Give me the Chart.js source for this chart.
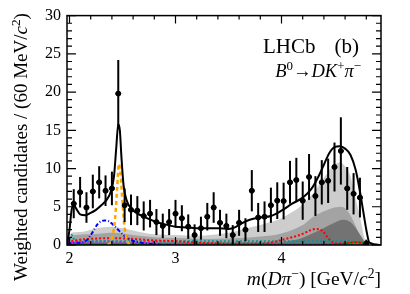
<!DOCTYPE html>
<html>
<head>
<meta charset="utf-8">
<script src="https://cdn.jsdelivr.net/npm/chart.js@4.4.1/dist/chart.umd.min.js"></script>
<style>
  body { margin: 0; background: #fff; }
  canvas { display: block; }
</style>
</head>
<body>
<canvas id="myChart" width="410" height="294"></canvas>
<script>
// m(D pi) bin centres [GeV/c^2], 60 MeV bins
var binCenters = [2.04, 2.10, 2.16, 2.22, 2.28, 2.34, 2.40, 2.46, 2.52, 2.58,
  2.64, 2.70, 2.76, 2.82, 2.88, 2.94, 3.00, 3.06, 3.12, 3.18,
  3.24, 3.30, 3.36, 3.42, 3.48, 3.54, 3.60, 3.66, 3.72, 3.78,
  3.84, 3.90, 3.96, 4.02, 4.08, 4.14, 4.20, 4.26, 4.32, 4.38,
  4.44, 4.50, 4.56, 4.62, 4.68, 4.74, 4.80];
var counts = [5.4, 6.9, 4.9, 7.0, 8.2, 7.1, 7.4, 19.8, 5.2, 4.6,
  4.5, 3.8, 4.1, 3.0, 2.5, 3.0, 4.1, 3.5, 2.4, 1.3,
  2.2, 3.7, 4.9, 2.9, 2.5, 1.3, 2.9, 2.0, 7.1, 3.6,
  3.7, 5.2, 5.8, 5.75, 8.2, 8.5, 5.8, 8.9, 6.4, 8.2,
  8.4, 10.2, 12.3, 7.4, 6.7, 6.2, 0.2];
var errors = [1.9, 2.0, 2.0, 2.2, 2.1, 2.0, 2.2, 4.4, 2.2, 2.0,
  1.9, 1.9, 1.8, 1.7, 1.6, 1.7, 1.8, 1.7, 1.6, 1.4,
  1.5, 1.8, 2.0, 1.7, 1.6, 1.3, 1.7, 1.5, 2.7, 1.9,
  2.0, 2.3, 2.4, 2.4, 2.8, 2.9, 2.5, 3.0, 2.6, 2.9,
  2.9, 3.2, 4.4, 2.8, 2.7, 2.6, 0.5];

// total fit
var fitX = [1.976, 2.00, 2.02, 2.04, 2.07, 2.10, 2.15, 2.20, 2.25, 2.30, 2.35, 2.39, 2.42, 2.44, 2.46, 2.475,
  2.49, 2.51, 2.54, 2.58, 2.63, 2.70, 2.80, 2.90, 3.00, 3.10, 3.20, 3.30, 3.40, 3.50, 3.56, 3.62,
  3.70, 3.80, 3.90, 4.00, 4.10, 4.20, 4.28, 4.35, 4.40, 4.45, 4.50, 4.55, 4.60, 4.65, 4.70, 4.74,
  4.77, 4.80, 4.83, 4.94];
var fitY = [0, 2.0, 4.6, 5.2, 4.6, 4.0, 3.9, 4.2, 4.6, 5.2, 5.9, 7.0, 9.0, 12.5, 15.8, 15.0,
  11.5, 7.8, 5.8, 4.8, 4.2, 3.7, 3.1, 2.7, 2.4, 2.3, 2.2, 2.2, 2.2, 2.1, 2.3, 2.8,
  3.3, 3.6, 3.8, 4.5, 5.4, 6.2, 7.3, 9.0, 10.5, 12.0, 12.8, 12.9, 12.6, 11.8, 9.8, 7.0,
  4.5, 2.0, 0.3, 0];

// signal-like components
var orangeX = [2.36, 2.40, 2.43, 2.45, 2.465, 2.48, 2.50, 2.52, 2.55, 2.58];
var orangeY = [0, 0.8, 3.5, 7.5, 10.6, 9.5, 5.5, 2.2, 0.4, 0];
var blueX = [1.98, 2.05, 2.10, 2.16, 2.21, 2.27, 2.33, 2.37, 2.43, 2.51, 2.59, 2.70, 2.80, 2.95];
var blueY = [0.2, 0.3, 0.3, 0.6, 1.5, 2.8, 3.2, 3.1, 2.4, 1.3, 0.6, 0.25, 0.1, 0];
var redX = [1.98, 2.1, 2.2, 2.4, 2.6, 2.8, 3.0, 3.2, 3.4, 3.6, 3.8, 4.0, 4.17, 4.33, 4.39, 4.44, 4.49, 4.55, 4.65, 4.72, 4.78];
var redY = [0.4, 0.7, 0.8, 0.9, 0.8, 0.6, 0.5, 0.3, 0.2, 0.15, 0.15, 0.65, 1.3, 2.1, 1.8, 0.9, 0.3, 0.2, 0.3, 0.35, 0];
var tealX = [1.98, 2.00, 2.02, 2.04, 2.08, 2.3, 2.6, 3.0, 3.4, 3.8, 4.2, 4.5, 4.7, 4.78];
var tealY = [0.3, 0.8, 1.3, 0.8, 0.5, 0.5, 0.5, 0.5, 0.5, 0.5, 0.5, 0.5, 0.4, 0];
var magentaX = [1.98, 2.1, 2.3, 2.5, 2.7, 2.9, 3.5, 4.2, 4.55, 4.65, 4.72, 4.78];
var magentaY = [0.3, 0.4, 0.45, 0.4, 0.3, 0.15, 0.1, 0.1, 0.2, 0.4, 0.4, 0];
var greenX = [1.98, 2.5, 3.5, 4.3, 4.6, 4.7, 4.76, 4.8];
var greenY = [0.1, 0.1, 0.1, 0.1, 0.2, 0.4, 0.3, 0];

// stacked backgrounds (cumulative heights)
var lightX = [1.98, 2.02, 2.1, 2.2, 2.3, 2.4, 2.5, 2.6, 2.7, 2.8, 3.0, 3.2, 3.4, 3.5, 3.6, 3.7, 3.8, 3.9,
  4.0, 4.1, 4.2, 4.3, 4.4, 4.5, 4.55, 4.6, 4.65, 4.7, 4.75, 4.78, 4.8];
var lightY = [0, 1.6, 1.7, 2.0, 2.3, 2.4, 2.2, 1.9, 1.6, 1.4, 1.3, 1.2, 1.4, 1.6, 1.9, 2.3, 2.6, 3.0,
  3.5, 4.3, 5.3, 6.8, 8.8, 10.5, 10.8, 10.3, 9.0, 6.0, 3.0, 1.0, 0];
var midX = [1.98, 2.02, 2.2, 2.4, 2.6, 2.8, 3.0, 3.3, 3.6, 3.8, 4.0, 4.2, 4.3, 4.4, 4.5, 4.57, 4.63, 4.7, 4.75, 4.8];
var midY = [0, 1.2, 1.4, 1.6, 1.3, 1.0, 0.9, 0.8, 0.9, 1.1, 1.5, 2.6, 3.7, 4.4, 4.9, 5.0, 4.3, 2.5, 1.0, 0];
var darkX = [3.8, 3.9, 4.0, 4.17, 4.36, 4.5, 4.58, 4.65, 4.72, 4.78, 4.8];
var darkY = [0, 0.2, 0.4, 0.8, 1.95, 2.9, 3.3, 3.0, 1.8, 0.5, 0];
var slateX = [1.98, 2.05, 2.5, 3.0, 3.5, 4.0, 4.5, 4.75, 4.8];
var slateY = [0.2, 0.4, 0.35, 0.35, 0.35, 0.35, 0.35, 0.3, 0];

var xMajorTicks = [2, 3, 4];
var yMajorTicks = [0, 5, 10, 15, 20, 25, 30];

function pts(xs, ys) {
  return xs.map(function (x, i) { return { x: x, y: ys[i] }; });
}

function curve(xs, ys, color, width, dash, order) {
  return {
    data: pts(xs, ys), borderColor: color, borderWidth: width, borderDash: dash,
    pointRadius: 0, fill: false, cubicInterpolationMode: 'monotone', order: order
  };
}
function area(xs, ys, color, order) {
  return {
    data: pts(xs, ys), borderColor: color, borderWidth: 0, backgroundColor: color,
    pointRadius: 0, fill: 'origin', cubicInterpolationMode: 'monotone', order: order
  };
}

var SERIF = '"Liberation Serif", "DejaVu Serif", serif';

function fontFor(style, size) {
  var sz = style.indexOf('s') >= 0 ? size * 0.7 : size;
  return (style.indexOf('i') >= 0 ? 'italic ' : '') + sz + 'px ' + SERIF;
}
// parts: [text, style]  style: '' roman, 'i' italic, 's' superscript, 'is' italic superscript
function richText(ctx, parts, x, y, size, align) {
  var w = 0;
  parts.forEach(function (p) { ctx.font = fontFor(p[1], size); w += ctx.measureText(p[0]).width; });
  var cx = align === 'right' ? x - w : (align === 'center' ? x - w / 2 : x);
  ctx.textAlign = 'left';
  ctx.textBaseline = 'alphabetic';
  parts.forEach(function (p) {
    ctx.font = fontFor(p[1], size);
    var dy = p[1].indexOf('s') >= 0 ? -size * 0.38 : 0;
    ctx.fillText(p[0], cx, y + dy);
    cx += ctx.measureText(p[0]).width;
  });
}

var decorations = {
  id: 'decorations',
  afterDatasetsDraw: function (chart) {
    var ctx = chart.ctx, a = chart.chartArea;
    var xs = chart.scales.x, ys = chart.scales.y;
    ctx.save();
    // error bars
    ctx.strokeStyle = '#000';
    ctx.lineWidth = 2;
    binCenters.forEach(function (c, i) {
      var px = xs.getPixelForValue(c);
      var top = Math.max(ys.getPixelForValue(counts[i] + errors[i]), a.top);
      var bot = Math.min(ys.getPixelForValue(Math.max(counts[i] - errors[i], 0)), a.bottom);
      ctx.beginPath();
      ctx.moveTo(px, top); ctx.lineTo(px, bot);
      ctx.stroke();
      var py = ys.getPixelForValue(counts[i]);
      ctx.beginPath();
      ctx.moveTo(xs.getPixelForValue(c - 0.025), py); ctx.lineTo(xs.getPixelForValue(c + 0.025), py);
      ctx.stroke();
    });
    // frame
    ctx.lineWidth = 1.5;
    ctx.strokeRect(a.left, a.top, a.right - a.left, a.bottom - a.top);
    ctx.lineWidth = 1.2;
    ctx.beginPath();
    var v, p, len;
    for (v = 2.0; v < 4.95; v += 0.2) {
      p = xs.getPixelForValue(v);
      if (p < a.left || p > a.right) continue;
      len = Math.abs(v - Math.round(v)) < 0.01 ? 8 : 4;
      ctx.moveTo(p, a.bottom); ctx.lineTo(p, a.bottom - len);
      ctx.moveTo(p, a.top); ctx.lineTo(p, a.top + len);
    }
    for (v = 0; v <= 30; v += 1) {
      p = ys.getPixelForValue(v);
      len = v % 5 === 0 ? 9 : 5;
      ctx.moveTo(a.left, p); ctx.lineTo(a.left + len, p);
      ctx.moveTo(a.right, p); ctx.lineTo(a.right - len, p);
    }
    ctx.stroke();
    ctx.restore();
  },
  afterDraw: function (chart) {
    var ctx = chart.ctx, a = chart.chartArea;
    ctx.save();
    ctx.fillStyle = '#000';
    // y title
    ctx.save();
    ctx.translate(27, 147);
    ctx.rotate(-Math.PI / 2);
    richText(ctx, [['Weighted candidates / (60 MeV/', ''], ['c', 'i'], ['2', 's'], [')', '']], 0, 0, 19, 'center');
    ctx.restore();
    // x title
    richText(ctx, [['m', 'i'], ['(', ''], ['D', 'i'], ['\u03C0', 'i'], ['\u2212', 's'], [') [GeV/', ''], ['c', 'i'], ['2', 's'], [']', '']],
      a.right, 285, 19.5, 'right');
    // labels
    richText(ctx, [['LHCb', '']], 263, 53, 21, 'left');
    richText(ctx, [['(b)', '']], 359, 53, 21, 'right');
    richText(ctx, [['B', 'i'], ['0', 's'], ['\u2192', ''], ['DK', 'i'], ['+', 's'], ['\u03C0', 'i'], ['\u2212', 's']],
      361, 77, 18.5, 'right');
    ctx.restore();
  }
};

var ctx = document.getElementById('myChart').getContext('2d');
var chart = new Chart(ctx, {
  type: 'line',
  data: {
    datasets: [
      {
        data: pts(binCenters, counts), showLine: false, pointRadius: 2.5,
        pointBackgroundColor: '#000', pointBorderColor: '#000', order: 0
      },
      curve(fitX, fitY, '#000', 2, [], 1),
      curve(orangeX, orangeY, '#ffa500', 2.5, [4, 3], 2),
      curve(blueX, blueY, '#0000ff', 2, [4, 2, 1, 2], 3),
      curve(redX, redY, '#ff0000', 2, [2, 2], 4),
      curve(tealX, tealY, '#009999', 2, [2, 2], 5),
      curve(magentaX, magentaY, '#ff00ff', 2, [2, 2], 6),
      curve(greenX, greenY, '#008000', 1.5, [], 7),
      area(slateX, slateY, '#5f8080', 8),
      area(darkX, darkY, '#737373', 9),
      area(midX, midY, '#a3a3a3', 10),
      area(lightX, lightY, '#cdcdcd', 11)
    ]
  },
  options: {
    responsive: false,
    animation: false,
    devicePixelRatio: 1,
    layout: { padding: { top: 14, right: 29, left: 0, bottom: 0 } },
    plugins: { legend: { display: false }, tooltip: { enabled: false } },
    scales: {
      x: {
        type: 'linear', min: 1.9764, max: 4.9387,
        afterBuildTicks: function (s) { s.ticks = xMajorTicks.map(function (v) { return { value: v }; }); },
        afterFit: function (s) { s.height = 49; },
        grid: { display: false, drawTicks: false }, border: { display: false },
        ticks: { color: '#000', padding: 4, maxRotation: 0, font: { family: SERIF, size: 16 } }
      },
      y: {
        type: 'linear', min: 0, max: 30,
        afterBuildTicks: function (s) { s.ticks = yMajorTicks.map(function (v) { return { value: v }; }); },
        afterFit: function (s) { s.width = 67; },
        grid: { display: false, drawTicks: false }, border: { display: false },
        ticks: { color: '#000', padding: 6, font: { family: SERIF, size: 16 } }
      }
    }
  },
  plugins: [decorations]
});
</script>
</body>
</html>
